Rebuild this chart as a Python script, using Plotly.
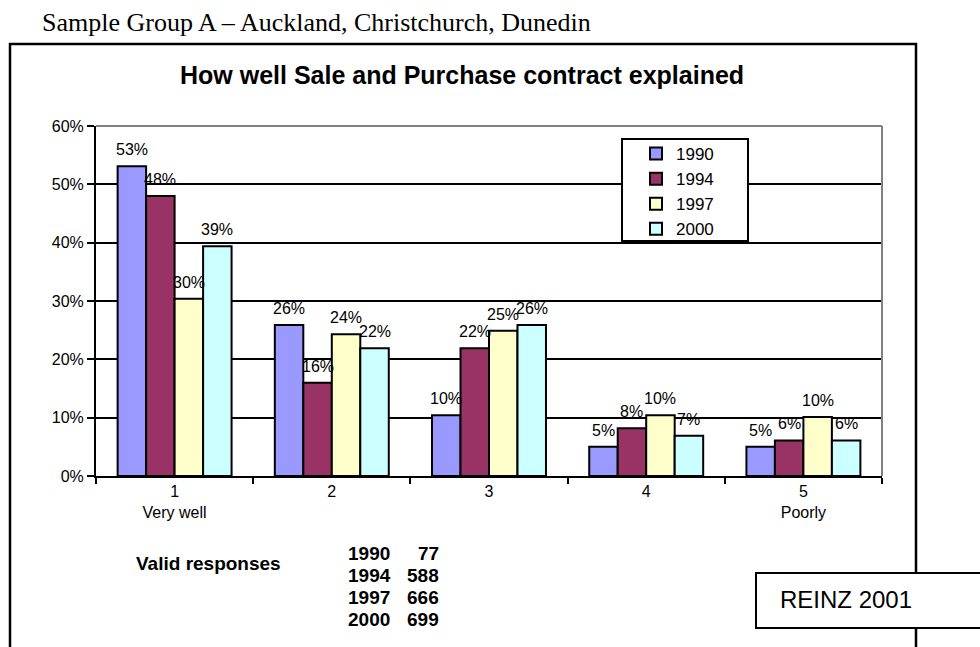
import plotly.graph_objects as go

# Survey categories (1 = very well ... 5 = poorly)
categories = ["1", "2", "3", "4", "5"]
category_notes = ["Very well", "", "", "", "Poorly"]

# Share of respondents per survey year
years = ["1990", "1994", "1997", "2000"]
share_1990 = [0.531, 0.259, 0.104, 0.050, 0.050]
share_1994 = [0.480, 0.160, 0.219, 0.082, 0.061]
share_1997 = [0.304, 0.243, 0.249, 0.104, 0.101]
share_2000 = [0.394, 0.219, 0.259, 0.069, 0.061]
colors = ["#9999FF", "#993366", "#FFFFCC", "#CCFFFF"]

# Valid responses per survey year
valid_years = ["1990", "1994", "1997", "2000"]
valid_counts = [77, 588, 666, 699]

W, H = 980, 647
L, R, T, B = 96, 882, 126, 476
BARGAP = 0.275


def px(x):
    return (x - L) / (R - L)


def py(y):
    return (B - y) / (B - T)


series = [share_1990, share_1994, share_1997, share_2000]

fig = go.Figure()
for name, vals, col in zip(years, series, colors):
    fig.add_trace(go.Bar(
        x=categories, y=vals, name=name,
        marker=dict(color=col, line=dict(color="black", width=2)),
    ))

ticktext = [c if not n else f"{c}<br>{n}" for c, n in zip(categories, category_notes)]

ann = []
# value labels above each bar (x given as category index)
slot = (R - L) / len(categories) * (1 - BARGAP) / len(series)
for i, vals in enumerate(series):
    off = (i - (len(series) - 1) / 2) * slot
    for j, v in enumerate(vals):
        ann.append(dict(x=j, y=v, xref="x", yref="y", xshift=off, yshift=6,
                        xanchor="center", yanchor="bottom", showarrow=False,
                        text=f"{v:.0%}",
                        font=dict(family="Liberation Sans", size=16, color="black")))

ann.append(dict(x=px(40), y=py(22), xref="paper", yref="paper", xanchor="left", yanchor="middle",
                text="Sample Group A – Auckland, Christchurch, Dunedin", showarrow=False,
                font=dict(family="Liberation Serif", size=26, color="black")))
ann.append(dict(x=px(462), y=py(75), xref="paper", yref="paper", xanchor="center", yanchor="middle",
                text="<b>How well Sale and Purchase contract explained</b>", showarrow=False,
                font=dict(family="Liberation Sans", size=25, color="black")))
ann.append(dict(x=px(134), y=py(563), xref="paper", yref="paper", xanchor="left", yanchor="middle",
                text="<b>Valid responses</b>", showarrow=False,
                font=dict(family="Liberation Sans", size=19, color="black")))
row_y = [553, 575, 597, 619]
for yr, n, ry in zip(valid_years, valid_counts, row_y):
    ann.append(dict(x=px(346), y=py(ry), xref="paper", yref="paper", xanchor="left", yanchor="middle",
                    text=f"<b>{yr}</b>", showarrow=False,
                    font=dict(family="Liberation Sans", size=19, color="black")))
    ann.append(dict(x=px(441), y=py(ry), xref="paper", yref="paper", xanchor="right", yanchor="middle",
                    text=f"<b>{n}</b>", showarrow=False,
                    font=dict(family="Liberation Sans", size=19, color="black")))
ann.append(dict(x=px(778), y=py(599), xref="paper", yref="paper", xanchor="left", yanchor="middle",
                text="REINZ 2001", showarrow=False,
                font=dict(family="Liberation Sans", size=24, color="black")))

shapes = [
    # outer frame
    dict(type="rect", xref="paper", yref="paper", x0=px(10), x1=px(916), y0=py(700), y1=py(44),
         line=dict(color="black", width=2.5), fillcolor="rgba(0,0,0,0)", layer="above"),
    # plot-area border (top and right)
    dict(type="line", xref="paper", yref="paper", x0=0, x1=1, y0=1, y1=1,
         line=dict(color="#808080", width=2), layer="above"),
    dict(type="line", xref="paper", yref="paper", x0=1, x1=1, y0=0, y1=1,
         line=dict(color="#808080", width=2), layer="above"),
    # legend frame
    dict(type="rect", xref="paper", yref="paper", x0=px(622), x1=px(748), y0=py(241), y1=py(139),
         line=dict(color="black", width=2), fillcolor="white", layer="above"),
    # source box
    dict(type="rect", xref="paper", yref="paper", x0=px(756), x1=px(1000), y0=py(628), y1=py(573),
         line=dict(color="black", width=2), fillcolor="white", layer="above"),
]

fig.update_layout(
    width=W, height=H,
    margin=dict(l=L, r=W - R, t=T, b=H - B, pad=0),
    paper_bgcolor="white", plot_bgcolor="white",
    barmode="group", bargap=BARGAP, bargroupgap=0,
    font=dict(family="Liberation Sans", size=16, color="black"),
    showlegend=True,
    legend=dict(x=px(636), y=py(136), xanchor="left", yanchor="top",
                bgcolor="rgba(0,0,0,0)", borderwidth=0,
                font=dict(family="Liberation Sans", size=17, color="black")),
    annotations=ann, shapes=shapes,
    xaxis=dict(type="category", tickvals=categories, ticktext=ticktext,
               range=[-0.5, len(categories) - 0.5],
               showline=True, linecolor="black", linewidth=2,
               ticks="outside", tickson="boundaries", ticklen=6, tickcolor="black", tickwidth=2,
               showgrid=False, tickfont=dict(size=16)),
    yaxis=dict(range=[0, 0.6], dtick=0.1, tickformat=".0%",
               showline=True, linecolor="black", linewidth=2,
               ticks="outside", ticklen=7, tickcolor="black", tickwidth=2,
               showgrid=True, gridcolor="black", gridwidth=2, zeroline=False,
               tickfont=dict(size=16)),
)

fig.write_html("out.html")
